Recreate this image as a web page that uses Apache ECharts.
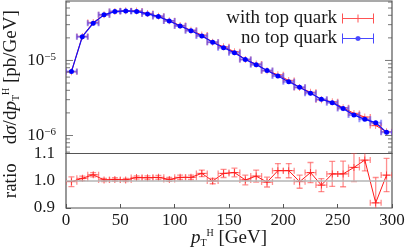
<!DOCTYPE html>
<html><head><meta charset="utf-8">
<script src="https://cdn.jsdelivr.net/npm/echarts@6/dist/echarts.min.js"></script>
<style>html,body{margin:0;padding:0;background:#fff}#c{width:407px;height:248px}</style>
</head><body><div id="c"></div>
<script>
// ---- data ----
const ptCenters = [5,15,25,35,45,55,65,75,85,95,105,115,125,135,145,155,165,175,185,195,205,215,225,235,245,255,265,275,285,295];
const binHalfWidth = 5;
const noTop = [7.1e-6,2.07e-5,3.13e-5,4.05e-5,4.48e-5,4.57e-5,4.50e-5,4.17e-5,3.84e-5,3.36e-5,2.88e-5,2.49e-5,2.12e-5,1.75e-5,1.48e-5,1.27e-5,1.03e-5,8.79e-6,7.35e-6,6.21e-6,5.21e-6,4.39e-6,3.66e-6,3.04e-6,2.74e-6,2.28e-6,1.88e-6,1.64e-6,1.48e-6,1.10e-6];
const withTop = [7.08e-6,2.09e-5,3.20e-5,4.06e-5,4.50e-5,4.58e-5,4.55e-5,4.22e-5,3.89e-5,3.38e-5,2.92e-5,2.52e-5,2.18e-5,1.75e-5,1.52e-5,1.31e-5,1.03e-5,8.94e-6,7.31e-6,6.44e-6,5.40e-6,4.37e-6,3.77e-6,2.99e-6,2.81e-6,2.34e-6,1.97e-6,1.76e-6,1.36e-6,1.12e-6];
const ratio = [0.9965,1.009,1.022,1.003,1.005,1.003,1.012,1.011,1.0125,1.005,1.0125,1.0125,1.027,0.999,1.027,1.03,1.003,1.017,0.995,1.037,1.037,0.9965,1.03,0.984,1.025,1.025,1.049,1.076,0.919,1.021];
const ratioErr = [0.018,0.008,0.008,0.006,0.006,0.006,0.006,0.007,0.007,0.007,0.008,0.008,0.012,0.01,0.015,0.016,0.018,0.022,0.018,0.026,0.026,0.024,0.037,0.024,0.046,0.047,0.052,0.04,0.093,0.061];
const xTicks = [0,50,100,150,200,250,300];
const logMajorTicks = [1e-6,1e-5];
const logMinorTicks = [6e-7,7e-7,8e-7,9e-7,2e-6,3e-6,4e-6,5e-6,6e-6,7e-6,8e-6,9e-6,2e-5,3e-5,4e-5,5e-5,6e-5];
const ratioTicks = [0.9,1.0,1.1];
const legendLabels = ['with top quark','no top quark'];

const FONT = 'Liberation Serif';
const TXT = '#1a1a1a';
const RED = '#ff1a1a', BLUE = '#1010ff';
const RED_ERR = 'rgba(255,70,70,0.6)', BLUE_ERR = 'rgba(70,70,255,0.55)';

function errRender(color, cap, lw) {
  return function (params, api) {
    const x = api.value(0), y = api.value(1), lo = api.value(2), hi = api.value(3);
    const pL = api.coord([x - binHalfWidth, y]);
    const pR = api.coord([x + binHalfWidth, y]);
    const pB = api.coord([x, lo]);
    const pT = api.coord([x, hi]);
    const st = { stroke: color, lineWidth: lw, fill: null };
    const ch = [
      { type: 'line', shape: { x1: pL[0], y1: pL[1], x2: pR[0], y2: pR[1] }, style: st },
      { type: 'line', shape: { x1: pL[0], y1: pL[1] - cap, x2: pL[0], y2: pL[1] + cap }, style: st },
      { type: 'line', shape: { x1: pR[0], y1: pR[1] - cap, x2: pR[0], y2: pR[1] + cap }, style: st }
    ];
    if (Math.abs(pB[1] - pT[1]) > 0.5) {
      ch.push({ type: 'line', shape: { x1: pB[0], y1: pB[1], x2: pT[0], y2: pT[1] }, style: st });
      ch.push({ type: 'line', shape: { x1: pB[0] - cap, y1: pB[1], x2: pB[0] + cap, y2: pB[1] }, style: st });
      ch.push({ type: 'line', shape: { x1: pT[0] - cap, y1: pT[1], x2: pT[0] + cap, y2: pT[1] }, style: st });
    }
    return { type: 'group', children: ch };
  };
}

const plusSym = 'path://M0,4.5h10v1h-10z M4.5,0h1v10h-1z';
const redTop = ptCenters.map((x, i) => [x, withTop[i]]);
const blueTop = ptCenters.map((x, i) => [x, noTop[i]]);
const redTopErr = ptCenters.map((x, i) => [x, withTop[i], withTop[i], withTop[i]]);
const blueTopErr = ptCenters.map((x, i) => [x, noTop[i], noTop[i], noTop[i]]);
const ratioPts = ptCenters.map((x, i) => [x, ratio[i]]);
const ratioErrPts = ptCenters.map((x, i) => [x, ratio[i], ratio[i] - ratioErr[i], ratio[i] + ratioErr[i]]);

function tickSeries(xi, yi, xv, vals, len, dir) {
  return {
    type: 'scatter', xAxisIndex: xi, yAxisIndex: yi, silent: true, clip: false, z: 10,
    symbol: 'rect', symbolSize: [len, 1], symbolOffset: [dir * len / 2, 0],
    itemStyle: { color: '#555' },
    data: vals.map(v => [xv, v])
  };
}

const richBase = { fontFamily: FONT, fontSize: 19, color: TXT, lineHeight: 20 };
const nameRich = {
  t: richBase,
  i: Object.assign({}, richBase, { fontStyle: 'italic' }),
  sub: { fontFamily: FONT, fontSize: 10, color: TXT, lineHeight: 9, verticalAlign: 'bottom' },
  sup: { fontFamily: FONT, fontSize: 10, color: TXT, lineHeight: 9, verticalAlign: 'top' }
};

const gridCommon = { left: 66, right: 15, show: true, borderColor: '#555', borderWidth: 1.2, backgroundColor: 'transparent', containLabel: false, outerBoundsMode: 'none' };

const chart = echarts.init(document.getElementById('c'), null, { renderer: 'canvas' });
chart.setOption({
  animation: false,
  backgroundColor: '#fff',
  grid: [
    Object.assign({ top: 1, height: 152.5 }, gridCommon),
    Object.assign({ top: 153.5, height: 54.5 }, gridCommon)
  ],
  xAxis: [
    { gridIndex: 0, type: 'value', min: 0, max: 300, interval: 50, axisLabel: { show: false }, axisTick: { show: false }, axisLine: { show: false }, splitLine: { show: false } },
    { gridIndex: 1, type: 'value', min: xTicks[0], max: xTicks[xTicks.length - 1], interval: 50,
      axisLabel: { fontFamily: FONT, fontSize: 17, color: TXT, margin: 4 },
      axisTick: { inside: true, length: 4, lineStyle: { color: '#555' } }, axisLine: { show: false }, splitLine: { show: false },
      name: '{i|p}{sub|T}{sup|H}{t| [GeV]}', nameLocation: 'middle', nameGap: 20, nameMoveOverlap: false,
      nameTextStyle: { rich: nameRich } }
  ],
  yAxis: [
    { gridIndex: 0, type: 'log', logBase: 10, min: 5.75e-7, max: 6.2e-5,
      axisLabel: { showMinLabel: false, showMaxLabel: false, margin: 10,
        formatter: v => { const e = Math.log10(v); if (Math.abs(e - Math.round(e)) > 1e-6) return ''; return '{b|10}{s|−' + Math.abs(Math.round(e)) + '}'; },
        rich: { b: { fontFamily: FONT, fontSize: 17, color: TXT, lineHeight: 18 }, s: { fontFamily: FONT, fontSize: 11, color: TXT, lineHeight: 8, verticalAlign: 'top' } } },
      axisTick: { show: false }, axisLine: { show: false }, splitLine: { show: false },
      name: '{t|d}{i|σ}{t|/d}{i|p}{sub|T}{sup|H}{t| [pb/GeV]}', nameLocation: 'middle', nameGap: 45, nameMoveOverlap: false,
      nameTextStyle: { rich: nameRich } },
    { gridIndex: 1, type: 'value', min: ratioTicks[0], max: ratioTicks[2], interval: 0.1,
      axisLabel: { fontFamily: FONT, fontSize: 17, color: TXT, margin: 11, formatter: v => v.toFixed(1) },
      axisTick: { inside: true, length: 5, lineStyle: { color: '#555' } }, axisLine: { show: false }, splitLine: { show: false },
      name: '{t|ratio}', nameLocation: 'middle', nameGap: 45, nameMoveOverlap: false, nameTextStyle: { rich: nameRich } }
  ],
  legend: {
    orient: 'vertical', right: 28, top: 4, align: 'right', itemGap: 1, itemWidth: 32, itemHeight: 10,
    textStyle: { fontFamily: FONT, fontSize: 19, color: TXT, lineHeight: 18 },
    data: [
      { name: legendLabels[0], icon: 'path://M0,0h1v10h-1z M0,4.5h32v1h-32z M31,0h1v10h-1z M15.5,1h1v8h-1z', itemStyle: { color: 'rgba(255,40,40,0.8)' } },
      { name: legendLabels[1], icon: 'path://M0,0h1v10h-1z M0,4.5h32v1h-32z M31,0h1v10h-1z M16,2.5L18,3.3L18.7,5L18,6.7L16,7.5L14,6.7L13.3,5L14,3.3z', itemStyle: { color: 'rgba(40,40,255,0.85)' } }
    ]
  },
  series: [
    { type: 'custom', name: legendLabels[0], xAxisIndex: 0, yAxisIndex: 0, renderItem: errRender(RED_ERR, 3, 1.5), data: redTopErr, z: 2, clip: true },
    { type: 'line', name: legendLabels[0], xAxisIndex: 0, yAxisIndex: 0, data: redTop, symbol: plusSym, symbolSize: 7,
      lineStyle: { color: RED, width: 1 }, itemStyle: { color: 'rgba(255,40,40,0.75)' }, z: 3 },
    { type: 'custom', name: legendLabels[1], xAxisIndex: 0, yAxisIndex: 0, renderItem: errRender(BLUE_ERR, 3, 2), data: blueTopErr, z: 4, clip: true },
    { type: 'line', name: legendLabels[1], xAxisIndex: 0, yAxisIndex: 0, data: blueTop, symbol: 'circle', symbolSize: 5,
      lineStyle: { color: BLUE, width: 1.2 }, itemStyle: { color: '#0000ff' }, z: 5 },
    { type: 'custom', name: 'ratioErr', xAxisIndex: 1, yAxisIndex: 1, renderItem: errRender(RED_ERR, 3, 1.3), data: ratioErrPts, z: 2, clip: true,
      markLine: { silent: true, symbol: 'none', label: { show: false }, lineStyle: { color: '#b4b4b4', width: 1.5, type: 'solid' }, data: [{ yAxis: 1 }] } },
    { type: 'line', name: 'ratio', xAxisIndex: 1, yAxisIndex: 1, data: ratioPts, symbol: plusSym, symbolSize: 7,
      lineStyle: { color: RED, width: 1 }, itemStyle: { color: RED }, z: 3, clip: true },
    tickSeries(0, 0, 0, logMinorTicks, 4, 1),
    tickSeries(0, 0, 0, logMajorTicks, 7, 1),
    tickSeries(0, 0, 300, logMinorTicks, 4, -1),
    tickSeries(0, 0, 300, logMajorTicks, 7, -1)
  ]
});
</script></body></html>
